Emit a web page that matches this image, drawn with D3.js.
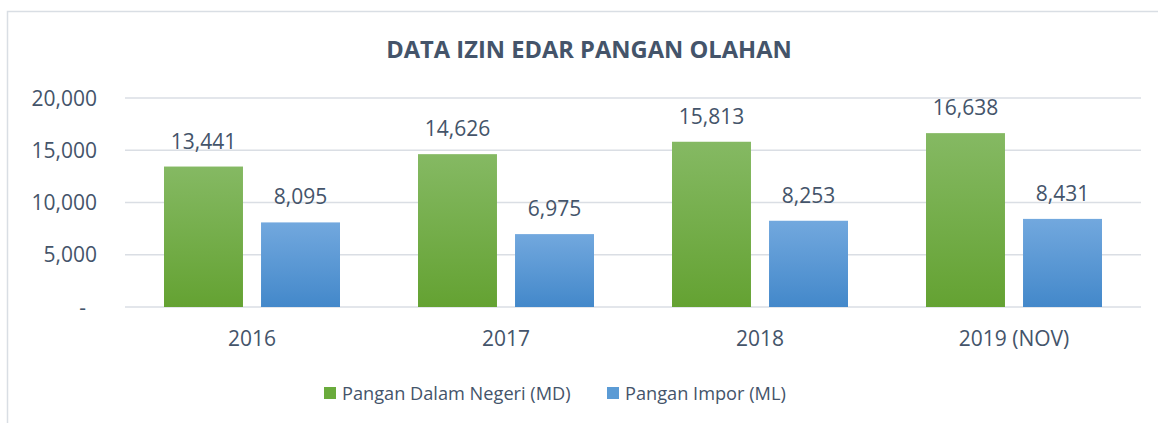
<!DOCTYPE html>
<html>
<head>
<meta charset="utf-8">
<script src="https://cdn.jsdelivr.net/npm/d3@7"></script>
<style>
  body { margin: 0; background: #fff; }
  svg text { font-family: "Open Sans", "Noto Sans", sans-serif; fill: #44546a; }
</style>
</head>
<body>
<div id="chart"></div>
<script>
var categories = ["2016", "2017", "2018", "2019 (NOV)"];
var seriesNames = ["Pangan Dalam Negeri (MD)", "Pangan Impor (ML)"];
var valuesMD = [13441, 14626, 15813, 16638];
var valuesML = [8095, 6975, 8253, 8431];
var yTicks = [0, 5000, 10000, 15000, 20000];

var W = 1158, H = 423;
var m = {top: 98, right: 17, bottom: 116, left: 125};

var svg = d3.select("#chart").append("svg")
    .attr("width", W)
    .attr("height", H);

// gradients for bars
var defs = svg.append("defs");
var grads = [
    {id: "gGreen", top: "#85b963", bottom: "#64a232"},
    {id: "gBlue", top: "#72a8de", bottom: "#4388ca"}
];
grads.forEach(function(g) {
    var lg = defs.append("linearGradient")
        .attr("id", g.id)
        .attr("x1", 0).attr("y1", 0).attr("x2", 0).attr("y2", 1);
    lg.append("stop").attr("offset", "0%").attr("stop-color", g.top);
    lg.append("stop").attr("offset", "100%").attr("stop-color", g.bottom);
});
var fills = ["url(#gGreen)", "url(#gBlue)"];
var legendFills = ["#6aab3c", "#5b9bd5"];

// outer frame
svg.append("rect")
    .attr("x", 7.5).attr("y", 11.5)
    .attr("width", W + 20).attr("height", H + 20)
    .attr("fill", "none")
    .attr("stroke", "#d9dee4")
    .attr("stroke-width", 1.5);

var x0 = d3.scaleBand()
    .domain(categories)
    .range([m.left, W - m.right])
    .padding(0);

var inset = 39;
var x1 = d3.scaleBand()
    .domain(seriesNames)
    .range([inset, x0.bandwidth() - inset])
    .paddingInner(0.186);

var y = d3.scaleLinear()
    .domain([0, 20000])
    .range([H - m.bottom, m.top]);

// grid lines
svg.append("g")
    .selectAll("line")
    .data(yTicks)
    .enter().append("line")
    .attr("x1", m.left)
    .attr("x2", W - m.right)
    .attr("y1", function(d) { return y(d); })
    .attr("y2", function(d) { return y(d); })
    .attr("stroke", "#dadee4")
    .attr("stroke-width", 1.6);

// y axis labels
var fmt = d3.format(",");
svg.append("g")
    .selectAll("text")
    .data(yTicks)
    .enter().append("text")
    .attr("x", function(d) { return d === 0 ? 86 : 97; })
    .attr("y", function(d) { return y(d); })
    .attr("dy", "0.36em")
    .attr("text-anchor", "end")
    .style("font-size", "21px")
    .text(function(d) { return d === 0 ? "-" : fmt(d); });

var data = categories.map(function(c, i) {
    return {cat: c, vals: [valuesMD[i], valuesML[i]]};
});

var groups = svg.append("g")
    .selectAll("g")
    .data(data)
    .enter().append("g")
    .attr("transform", function(d) { return "translate(" + x0(d.cat) + ",0)"; });

groups.selectAll("rect")
    .data(function(d) { return d.vals.map(function(v, j) { return {name: seriesNames[j], value: v, j: j}; }); })
    .enter().append("rect")
    .attr("x", function(d) { return x1(d.name); })
    .attr("y", function(d) { return y(d.value); })
    .attr("width", x1.bandwidth())
    .attr("height", function(d) { return y(0) - y(d.value); })
    .attr("fill", function(d) { return fills[d.j]; });

groups.selectAll("text.val")
    .data(function(d) { return d.vals.map(function(v, j) { return {name: seriesNames[j], value: v}; }); })
    .enter().append("text")
    .attr("class", "val")
    .attr("x", function(d) { return x1(d.name) + x1.bandwidth() / 2; })
    .attr("y", function(d) { return y(d.value) - 18; })
    .attr("text-anchor", "middle")
    .style("font-size", "21px")
    .text(function(d) { return fmt(d.value); });

// category labels
svg.append("g")
    .selectAll("text")
    .data(categories)
    .enter().append("text")
    .attr("x", function(d) { return x0(d) + x0.bandwidth() / 2; })
    .attr("y", 346)
    .attr("text-anchor", "middle")
    .style("font-size", "21px")
    .text(function(d) { return d; });

// title
svg.append("text")
    .attr("x", 589)
    .attr("y", 58)
    .attr("text-anchor", "middle")
    .style("font-size", "23.7px")
    .style("font-weight", "bold")
    .text("DATA IZIN EDAR PANGAN OLAHAN");

// legend
var legendX = [324, 607];
var legend = svg.append("g")
    .selectAll("g")
    .data(seriesNames)
    .enter().append("g")
    .attr("transform", function(d, i) { return "translate(" + legendX[i] + ",387)"; });

legend.append("rect")
    .attr("width", 12)
    .attr("height", 12)
    .attr("fill", function(d, i) { return legendFills[i]; });

legend.append("text")
    .attr("x", 18)
    .attr("y", 6)
    .attr("dy", "0.36em")
    .style("font-size", "18.2px")
    .text(function(d) { return d; });
</script>
</body>
</html>
